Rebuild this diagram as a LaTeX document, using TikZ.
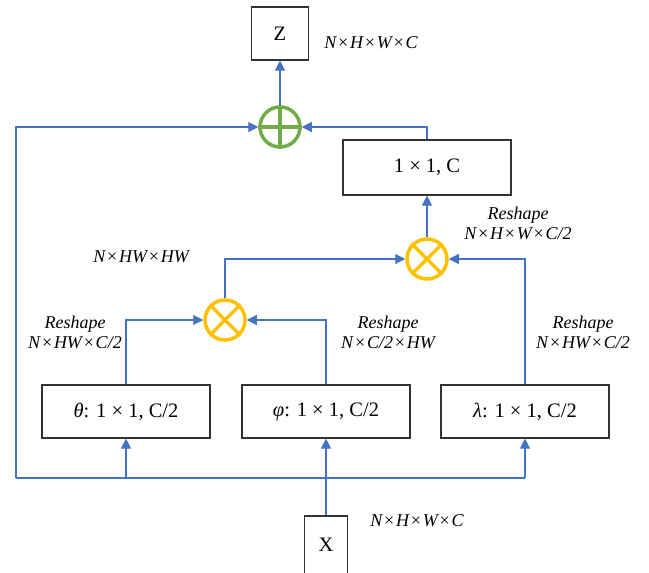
\documentclass[tikz,border=0pt]{standalone}
\usepackage{fontspec}
\setmainfont{Liberation Serif}
\usetikzlibrary{arrows.meta}
\definecolor{ln}{HTML}{4472C4}
\definecolor{gr}{HTML}{70AD47}
\definecolor{yl}{HTML}{FFC000}
\newcommand{\tx}{\kern1.8pt{\upshape ×}\kern1.8pt}
\tikzset{
  box/.style={draw=black!80, line width=1.1pt, minimum height=53pt, inner sep=0pt, font=\fontsize{20.5}{20.5}\selectfont},
  conn/.style={draw=ln, line width=1.1pt, -{Triangle[width=10pt,length=10pt]}},
  plain/.style={draw=ln, line width=1.1pt},
  lab/.style={font=\fontsize{18}{20}\selectfont\itshape, align=center, inner sep=0pt},
  opc/.style={circle, line width=3.5pt, minimum size=40pt, inner sep=0pt},
}
\begin{document}
\begin{tikzpicture}[x=1pt,y=-1pt]
\useasboundingbox (0,0) rectangle (649,573);
% boxes
\node[box, minimum width=57pt] (Z) at (280,33.5) {Z};
\node[box, minimum width=168pt, minimum height=55pt] (C) at (427,167.5) {1 × 1, C};
\node[box, minimum width=168pt] (T) at (126,411.5) {\textit{θ}: 1 × 1, C/2};
\node[box, minimum width=168pt] (P) at (326,411.5) {\textit{φ}: 1 × 1, C/2};
\node[box, minimum width=168pt] (L) at (525,411.5) {\textit{λ}: 1 × 1, C/2};
\node[box, minimum width=43pt, minimum height=58pt] (X) at (326,545) {X};
% operators
\node[opc, draw=gr] (S) at (280,127) {};
\draw[gr, line width=3.5pt] (S.north) -- (S.south) (S.west) -- (S.east);
\node[opc, draw=yl] (M2) at (427,259) {};
\draw[yl, line width=3.5pt] (M2.north west) -- (M2.south east) (M2.north east) -- (M2.south west);
\node[opc, draw=yl] (M1) at (225,320) {};
\draw[yl, line width=3.5pt] (M1.north west) -- (M1.south east) (M1.north east) -- (M1.south west);
% coordinates
\coordinate (j) at (16,478);
\coordinate (jT) at (T.south |- j);
\coordinate (jP) at (P.south |- j);
\coordinate (jL) at (L.south |- j);
% connectors
\draw[conn] (S.north) -- (Z.south);
\draw[conn] (C.north) |- (S.east);
\draw[conn] (M2.north) -- (C.south);
\draw[conn] (M1.north) |- (M2.west);
\draw[conn] (L.north) |- (M2.east);
\draw[conn] (T.north) |- (M1.west);
\draw[conn] (P.north) |- (M1.east);
\draw[plain] (X.north) -- (jP);
\draw[plain] (jL) -- (j);
\draw[conn] (j) |- (S.west);
\draw[conn] (jT) -- (T.south);
\draw[conn] (jP) -- (P.south);
\draw[conn] (jL) -- (L.south);
% labels
\node[lab] (lz) at (371,43) {N\tx H\tx W\tx C};
\node[lab] (lx) at (417,521) {N\tx H\tx W\tx C};
\node[lab] (lm) at (141,257) {N\tx HW\tx HW};
\node[lab] (l2) at (518,223) {Reshape\\N\tx H\tx W\tx C/2};
\node[lab] (lt) at (75,332) {Reshape\\N\tx HW\tx C/2};
\node[lab] (lp) at (388,332) {Reshape\\N\tx C/2\tx HW};
\node[lab] (ll) at (583,332) {Reshape\\N\tx HW\tx C/2};
\end{tikzpicture}
\end{document}
